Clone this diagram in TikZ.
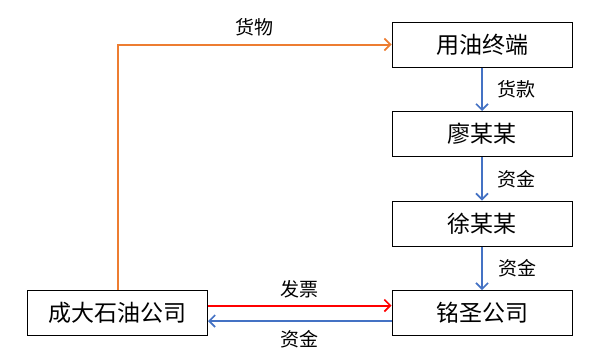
\documentclass[tikz,border=0pt]{standalone}
\usepackage{fontspec}
\setmainfont{Noto Sans CJK SC}
\usetikzlibrary{arrows.meta}
\definecolor{orng}{RGB}{237,125,49}
\definecolor{blu}{RGB}{68,114,196}
\definecolor{rd}{RGB}{255,0,0}
\begin{document}
\begin{tikzpicture}[x=1pt,y=-1pt,
  box/.style={draw=black,line width=1pt,minimum width=180pt,minimum height=45pt,inner sep=0pt,font=\fontsize{23}{26}\selectfont},
  lbl/.style={font=\fontsize{19}{22}\selectfont,inner sep=0pt},
  arr/.style={line width=2pt,-{Straight Barb[length=6pt,width=12pt,line width=1.6pt]}}]
\useasboundingbox (0,0) rectangle (597,357);
\node[box] (yy) at (482,44.5) {用油终端};
\node[box] (lm) at (482,134) {廖某某};
\node[box] (xm) at (482,223.5) {徐某某};
\node[box] (ms) at (482,313) {铭圣公司};
\node[box] (cd) at (117.5,313) {成大石油公司};
\draw[arr,orng] (cd.north -| 117.5,0) |- (yy.west) node[lbl,black,pos=0.75,above=7pt] {货物};
\draw[arr,blu] (yy) -- (lm) node[lbl,black,midway,right=14pt] {货款};
\draw[arr,blu] (lm) -- (xm) node[lbl,black,midway,right=14pt] {资金};
\draw[arr,blu] (xm) -- (ms) node[lbl,black,midway,right=15pt] {资金};
\draw[arr,rd] (cd.east |- 0,305.5) -- (ms.west |- 0,305.5) node[lbl,black,midway,above=6pt] {发票};
\draw[arr,blu] (ms.west |- 0,321) -- (cd.east |- 0,321) node[lbl,black,midway,below=8pt] {资金};
\end{tikzpicture}
\end{document}
